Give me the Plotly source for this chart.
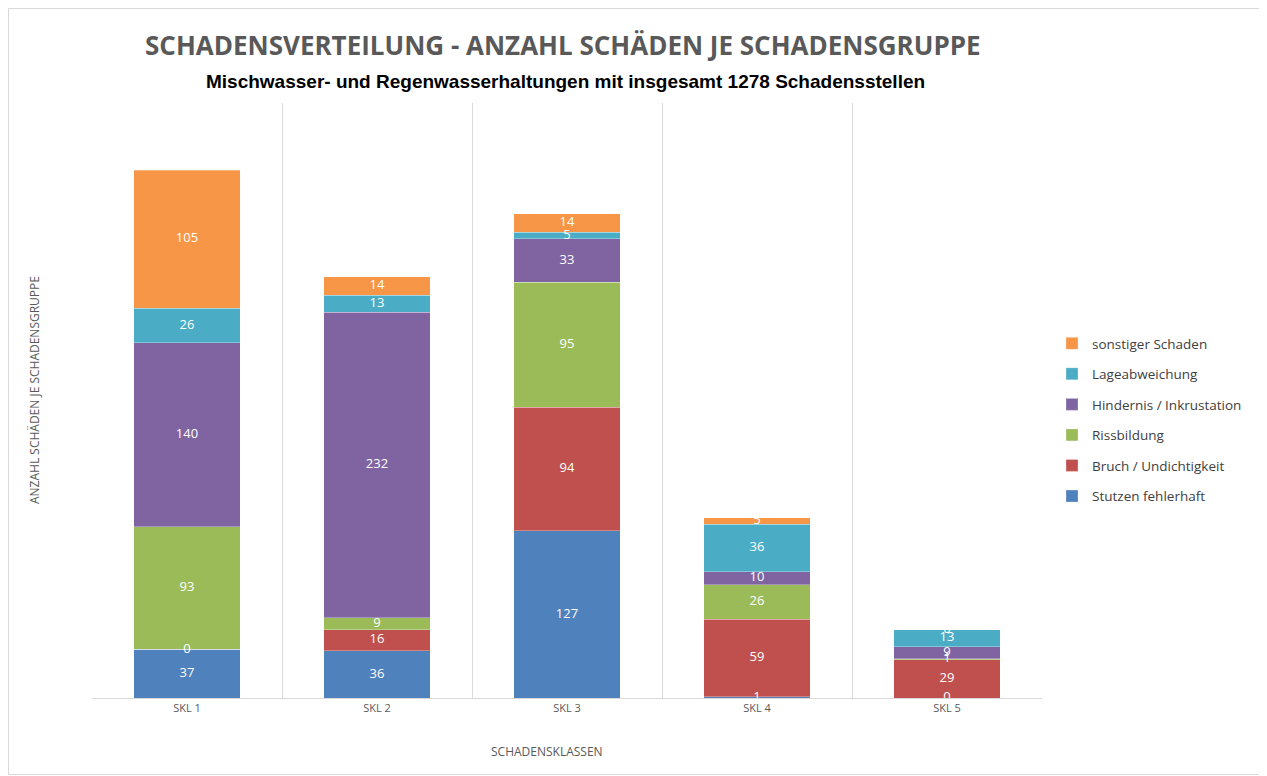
import numpy as np
import plotly.graph_objects as go

categories = ["SKL 1", "SKL 2", "SKL 3", "SKL 4", "SKL 5"]
series_names = [
    "Stutzen fehlerhaft",
    "Bruch / Undichtigkeit",
    "Rissbildung",
    "Hindernis / Inkrustation",
    "Lageabweichung",
    "sonstiger Schaden",
]
stutzen = [37, 36, 127, 1, 0]
bruch = [0, 16, 94, 59, 29]
riss = [93, 9, 95, 26, 1]
hindernis = [140, 232, 33, 10, 9]
lage = [26, 13, 5, 36, 13]
sonstiger = [105, 14, 14, 5, 0]
colors = ["#4F81BD", "#C0504D", "#9BBB59", "#8064A2", "#4BACC6", "#F79646"]

values = [stutzen, bruch, riss, hindernis, lage, sonstiger]

# page body has an 8px margin, so the figure is drawn a bit smaller
W, H = 1259, 768
L, T, PW, PH = 84, 95, 950, 595

fig = go.Figure()
for i, (name, vals, col) in enumerate(zip(series_names, values, colors)):
    fig.add_trace(go.Bar(
        x=categories, y=vals, name=name, legendgroup=name, legendrank=100 - i,
        marker=dict(color=col, line=dict(color="rgba(255,255,255,0.6)", width=0.5)),
        width=0.56, hoverinfo="x+y+name",
    ))

# segment labels (also for zero-height segments), placed at segment middles
base = np.zeros(len(categories))
for vals in values:
    v = np.array(vals, dtype=float)
    fig.add_trace(go.Scatter(
        x=categories, y=base + v / 2, mode="text", text=[str(x) for x in vals],
        textfont=dict(color="white", size=13, family="Open Sans"),
        showlegend=False, hoverinfo="skip",
    ))
    base = base + v

fig.update_layout(
    barmode="stack",
    width=W, height=H,
    paper_bgcolor="white", plot_bgcolor="white",
    margin=dict(l=L, r=W - L - PW, t=T, b=H - T - PH, autoexpand=False),
    legend=dict(
        x=(1044 - L) / PW, y=(690 - 412) / PH, xanchor="left", yanchor="middle",
        traceorder="grouped", tracegroupgap=10, itemwidth=30,
        bgcolor="rgba(0,0,0,0)",
        font=dict(family="Open Sans", size=13.5, color="#404040"),
    ),
    annotations=[
        dict(text="<b>SCHADENSVERTEILUNG - ANZAHL SCHÄDEN JE SCHADENSGRUPPE</b>",
             xref="paper", yref="paper", x=(555 - L) / PW, y=1 + (T - 37) / PH,
             showarrow=False, xanchor="center", yanchor="middle",
             font=dict(family="Open Sans", size=26, color="#595959")),
        dict(text="<b>Mischwasser- und Regenwasserhaltungen mit insgesamt 1278 Schadensstellen</b>",
             xref="paper", yref="paper", x=(557 - L) / PW, y=1 + (T - 74) / PH,
             showarrow=False, xanchor="center", yanchor="middle",
             font=dict(family="Liberation Sans", size=19, color="#000000")),
        dict(text="ANZAHL SCHÄDEN JE SCHADENSGRUPPE", textangle=-90,
             xref="paper", yref="paper", x=(27 - L) / PW, y=(690 - 382) / PH,
             showarrow=False, xanchor="center", yanchor="middle",
             font=dict(family="Open Sans", size=12, color="#595959")),
        dict(text="SCHADENSKLASSEN",
             xref="paper", yref="paper", x=(539 - L) / PW, y=-(744 - 690) / PH,
             showarrow=False, xanchor="center", yanchor="middle",
             font=dict(family="Open Sans", size=12, color="#595959")),
    ],
    shapes=[
        dict(type="rect", xref="paper", yref="paper",
             x0=-(L - 0.5) / PW, x1=1 + (W - L - PW - 6) / PW,
             y0=-(H - T - PH - 1.5) / PH, y1=1 + (T - 0.5) / PH,
             line=dict(color="#D9D9D9", width=1), layer="below"),
    ],
)

fig.update_xaxes(
    type="category", tickson="boundaries", ticks="",
    showgrid=True, gridcolor="#D9D9D9", gridwidth=1,
    showline=True, linecolor="#D9D9D9", linewidth=1,
    tickfont=dict(family="Open Sans", size=11, color="#595959"),
)
fig.update_yaxes(
    range=[0, 452], showgrid=False, showticklabels=False, zeroline=False,
    showline=False, ticks="",
)

fig.write_html("out.html")
